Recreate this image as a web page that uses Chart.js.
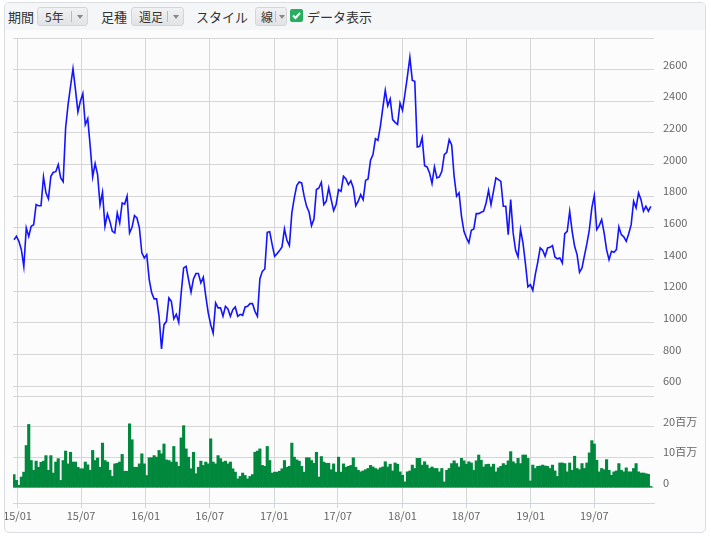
<!DOCTYPE html>
<html lang="ja">
<head>
<meta charset="utf-8">
<script src="https://cdn.jsdelivr.net/npm/chart.js@4.4.1/dist/chart.umd.min.js"></script>
<style>
  body { margin: 0; background: #fff; font-family: "Noto Sans CJK JP", "Noto Sans", sans-serif; }
  .card { position: absolute; left: 4px; top: 2px; width: 702px; height: 531px; box-sizing: border-box;
          border: 1px solid #dadde2; border-radius: 5px; background: #fcfcfd; overflow: hidden; }
  .bar { position: absolute; left: 0; top: 0; right: 0; height: 27px; background: #f5f6f8; font-size: 13px; color: #333; }
  .lbl { position: absolute; top: 4px; line-height: 19px; }
  .btn { position: absolute; top: 4px; height: 19px; box-sizing: border-box; border: 1px solid #d3d5d9; border-radius: 3px;
         background: linear-gradient(#f0f1f2, #e2e3e5); font-size: 12px; line-height: 17px; color: #333; }
  .btn .t { position: absolute; left: 7px; top: 0; }
  .btn .sep { position: absolute; top: 3px; width: 1px; height: 11px; background: #b9bcc0; }
  .btn .arr { position: absolute; top: 7px; width: 0; height: 0; border-left: 3px solid transparent;
              border-right: 3px solid transparent; border-top: 4px solid #888; }
  .chk { position: absolute; left: 285px; top: 6px; width: 13px; height: 13px; border-radius: 2px; background: #27ae60; }
  .chk svg { position: absolute; left: 0; top: 0; }
  #wrap { position: absolute; left: 0; top: 27px; width: 700px; height: 503px; }
</style>
</head>
<body>
<div class="card">
  <div class="bar">
    <span class="lbl" style="left:3px">期間</span>
    <div class="btn" style="left:32px;width:51px"><span class="t">5年</span><span class="sep" style="left:33px"></span><span class="arr" style="left:39px"></span></div>
    <span class="lbl" style="left:96px">足種</span>
    <div class="btn" style="left:126px;width:53px"><span class="t">週足</span><span class="sep" style="left:35px"></span><span class="arr" style="left:41px"></span></div>
    <span class="lbl" style="left:191px">スタイル</span>
    <div class="btn" style="left:250px;width:32px"><span class="t" style="left:5px">線</span><span class="sep" style="left:19px"></span><span class="arr" style="left:23px"></span></div>
    <div class="chk"><svg width="13" height="13"><path d="M3 6.5 L5.5 9 L10 4" stroke="#fff" stroke-width="2" fill="none"/></svg></div>
    <span class="lbl" style="left:302px">データ表示</span>
  </div>
  <div id="wrap"><canvas id="chart" width="700" height="503"></canvas></div>
</div>
<script>
// 週足 (先頭週の月曜日から 7 日刻み)
const firstWeek = Date.UTC(2014, 11, 22);

// 終値 (週足)
const closePrice = [
  1525,1546,1515,1462,1355,1600,1546,1610,1620,1747,
  1740,1740,1922,1821,1783,1926,1951,1955,2000,1916,
  1892,2231,2379,2495,2606,2474,2333,2400,2448,2252,
  2290,2115,1922,2006,1936,1745,1825,1610,1688,1641,
  1578,1568,1694,1631,1757,1750,1800,1568,1603,1677,
  1662,1600,1442,1410,1431,1273,1189,1151,1151,1041,
  835,988,1009,1157,1136,1025,1053,1003,1189,1347,
  1357,1273,1193,1277,1311,1311,1252,1288,1168,1062,
  988,935,1125,1094,1094,1041,1104,1087,1041,1083,
  1100,1041,1053,1047,1100,1104,1121,1121,1072,1041,
  1277,1325,1340,1572,1576,1494,1420,1437,1456,1479,
  1593,1521,1488,1694,1789,1867,1890,1884,1800,1736,
  1700,1614,1656,1842,1852,1888,1747,1768,1852,1778,
  1709,1747,1842,1831,1926,1909,1873,1897,1852,1740,
  1768,1810,1778,1900,1909,2027,2063,2164,2153,2242,
  2358,2469,2372,2415,2284,2267,2254,2389,2343,2446,
  2558,2678,2532,2526,2111,2115,2170,1993,1985,1947,
  1880,1985,1916,1922,1957,2063,2077,2158,2124,1926,
  1800,1821,1673,1578,1536,1505,1585,1593,1690,1690,
  1698,1705,1757,1837,1747,1831,1916,1905,1894,1736,
  1736,1557,1778,1568,1458,1416,1589,1505,1374,1227,
  1241,1205,1304,1382,1473,1458,1420,1473,1477,1488,
  1416,1404,1410,1378,1563,1578,1705,1578,1483,1431,
  1319,1347,1424,1500,1589,1726,1804,1589,1614,1652,
  1568,1462,1399,1452,1446,1462,1606,1557,1543,1515,
  1563,1620,1768,1726,1821,1778,1705,1736,1705,1736
];

// 出来高 (百万株)
const volume = [
  4.3,2.4,0.8,3.5,5.1,13.8,20.7,8.9,5.7,8.7,
  6.7,8.3,8.7,10.5,5.7,10.5,4.8,8.4,9.5,2.4,
  8.9,12,7.8,11.6,8.4,8.4,6.7,6.2,6.2,8.4,
  7.5,5.7,12.2,8.9,9.7,6.7,14.6,8.9,8.4,5.7,
  3.7,7.8,8,8.4,10.9,5.4,5.4,20.9,15.7,6.7,
  6.7,7.8,11.1,7.8,4,9.8,9.8,10.5,10,12.2,
  11.1,14.3,9.1,8.9,8.4,13.5,8.4,7,16.3,20.3,
  12.7,10,6.2,11.6,4.6,6.7,8.7,7.3,8.4,7.8,
  16,8.4,7.8,10.5,9.5,8.4,8.7,7.8,8.4,6.2,
  5.1,2.9,3.7,4.8,4,2.9,3.7,4.3,11.6,12,
  12.7,7.3,7,13.5,8.9,4.8,5.1,5.1,5.4,6.2,
  8.9,6.7,7,14.6,10,9.1,8.7,7,5.1,9.8,
  9.8,8.9,8,11.6,3.5,10.2,8.4,8,8,5.9,
  7.8,5.1,10,5.1,7.8,6.7,7,7.3,9.8,6.7,
  5.7,5.2,5.5,5.9,6.3,7.3,6.8,6.3,5.9,6.5,
  6.8,8.5,6.8,7.7,5.5,8.1,7.7,5.2,4.1,1.9,
  5.2,5.5,7.4,6.3,9.6,9.6,7.4,8.5,7.4,6.3,
  6.8,6.3,6.3,5.2,6.3,1.9,5.7,6.3,7.9,8.8,
  7.9,6.8,9.6,8.8,7.7,8.5,8.1,5.7,8.8,10.7,
  9,6.8,7.6,7.7,6.8,7.7,5.2,6.5,7,7.9,
  7.4,8.8,11.8,8.5,7.9,9.6,7.9,10.7,10.7,9.6,
  2.2,7.4,6.3,7,7.1,7.4,7.1,7,6.3,7.4,
  5.5,3.7,8.1,8.1,7.9,5.2,8.1,5.7,10.3,6.3,
  5.9,7.9,6.3,8.1,11.4,15.4,14.3,9,5.2,6.3,
  5.9,9.2,5.7,4.1,5.2,5.5,7.9,5.7,5.2,6.5,
  5.2,5.2,6.3,7.9,5.2,4.8,4.8,4.6,4.4,0.4
];

// 目盛り
const xTickLabels = ['15/01','15/07','16/01','16/07','17/01','17/07','18/01','18/07','19/01','19/07'];
const priceTicks = [600, 800, 1000, 1200, 1400, 1600, 1800, 2000, 2200, 2400, 2600, 2800];
const volTicks = [0, 10, 20, 30];
const volTickLabels = ['0', '10百万', '20百万', ''];

// 週の位置 (先頭週からの日数)
const weekDays = closePrice.map((_, i) => i * 7);
const tickDays = xTickLabels.map(s => {
  const [yy, mm] = s.split('/').map(Number);
  return (Date.UTC(2000 + yy, mm - 1, 1) - firstWeek) / 864e5;
});

const gridColor = '#d6d6d6';
const labelFont = {family: '"Noto Sans CJK JP", sans-serif', size: 11};

// 軸ラベルによる余白を付けない
function noPad(s) {
  s.paddingTop = 0;
  s.paddingBottom = 0;
  s.paddingLeft = 0;
  s.paddingRight = 0;
}

new Chart(document.getElementById('chart'), {
  type: 'bar',
  data: {
    datasets: [
      {
        type: 'line',
        label: '株価',
        data: weekDays.map((d, i) => ({x: d, y: closePrice[i]})),
        xAxisID: 'x',
        yAxisID: 'p',
        borderColor: '#1414ff',
        borderWidth: 1.6,
        pointRadius: 0,
        tension: 0
      },
      {
        type: 'bar',
        label: '出来高',
        data: weekDays.map((d, i) => ({x: d, y: volume[i]})),
        xAxisID: 'x',
        yAxisID: 'v',
        backgroundColor: '#00883d',
        borderWidth: 0,
        barPercentage: 1,
        categoryPercentage: 1
      }
    ]
  },
  options: {
    responsive: false,
    animation: false,
    layout: {padding: {left: 8, top: 8, right: 0, bottom: 0}},
    plugins: {legend: {display: false}, tooltip: {enabled: false}},
    scales: {
      x: {
        type: 'linear',
        offset: false,
        min: -2.8,
        max: 1822,
        afterBuildTicks: s => { s.ticks = tickDays.map(v => ({value: v})); },
        afterFit: s => { s.height = 30; noPad(s); },
        ticks: {
          autoSkip: false,
          maxRotation: 0,
          padding: 1,
          color: '#666',
          font: labelFont,
          callback: (v, i) => xTickLabels[i]
        },
        grid: {offset: false, color: gridColor, tickLength: 5, tickColor: '#ccd6eb'},
        border: {color: '#ccd6eb'}
      },
      p: {
        type: 'linear',
        position: 'right',
        stack: 'panel',
        stackWeight: 358,
        min: 537,
        max: 2800,
        afterBuildTicks: s => { s.ticks = priceTicks.map(v => ({value: v})); },
        afterFit: s => { s.width = 51; noPad(s); },
        ticks: {
          padding: 9,
          labelOffset: -5,
          color: '#666',
          font: labelFont,
          callback: v => (v === 2800 ? '' : String(v))
        },
        grid: {color: gridColor, drawTicks: false},
        border: {display: false}
      },
      v: {
        type: 'linear',
        position: 'right',
        stack: 'panel',
        stackWeight: 107,
        min: -5,
        max: 30,
        afterBuildTicks: s => { s.ticks = volTicks.map(v => ({value: v})); },
        afterFit: s => { s.width = 51; noPad(s); },
        ticks: {
          padding: 9,
          labelOffset: -5,
          color: '#666',
          font: labelFont,
          callback: (v, i) => volTickLabels[i]
        },
        grid: {color: gridColor, drawTicks: false},
        border: {display: false}
      }
    }
  }
});
</script>
</body>
</html>
